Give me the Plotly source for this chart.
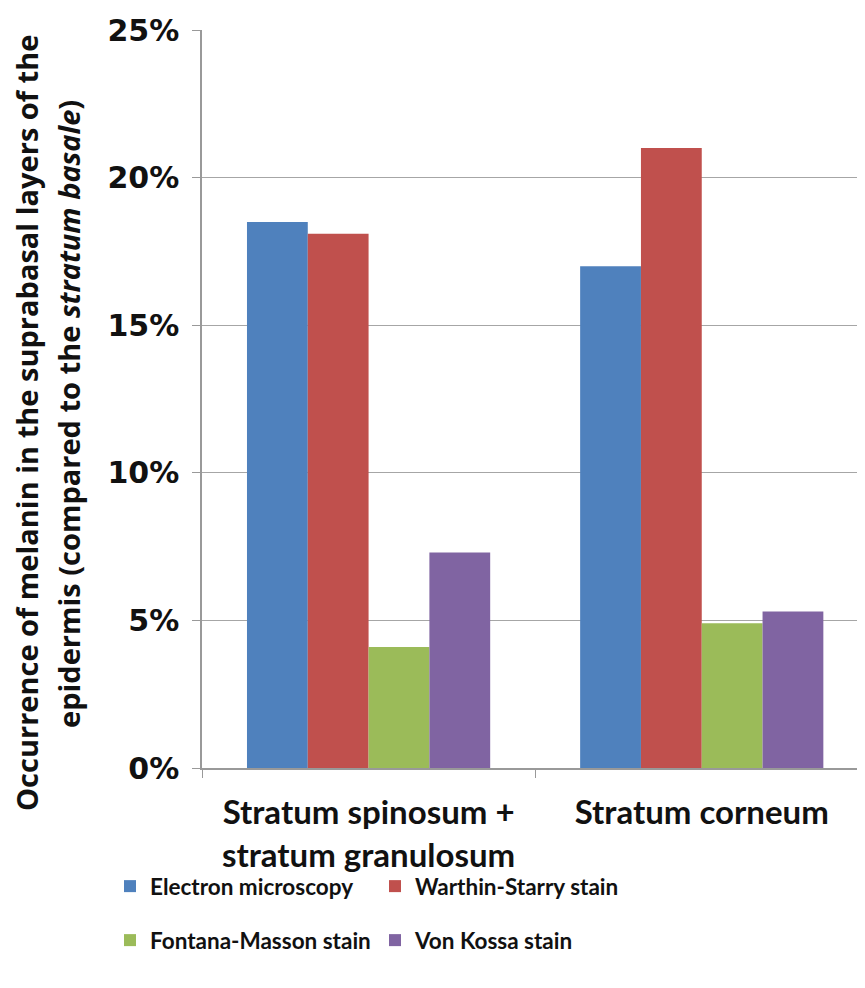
import plotly.graph_objects as go

categories = ["Stratum spinosum +<br>stratum granulosum", "Stratum corneum"]
series_names = ["Electron microscopy", "Warthin-Starry stain", "Fontana-Masson stain", "Von Kossa stain"]
electron = [0.185, 0.170]
warthin = [0.181, 0.210]
fontana = [0.041, 0.049]
vonkossa = [0.073, 0.053]
colors = ["#4F81BD", "#C0504D", "#9BBB59", "#8064A2"]
legends = ["legend", "legend", "legend2", "legend2"]
tick_vals = [0, 0.05, 0.10, 0.15, 0.20, 0.25]
tick_text = ["0%", "5%", "10%", "15%", "20%", "25%"]
title_lines = ["Occurrence of melanin in the suprabasal layers of the",
               "epidermis (compared to the <i>stratum basale</i>)"]

# page body has an 8px margin; figure is sized so the page fits the window
OFF = 8
W, H = 857, 972
ML, MT, MR = 202 - OFF, 30 - OFF, 0
MB = H - (768 - OFF)
PW = W - ML - MR
PH = H - MT - MB

fig = go.Figure()
for name, vals, col, lg in zip(series_names, [electron, warthin, fontana, vonkossa], colors, legends):
    fig.add_trace(go.Bar(x=categories, y=vals, name=name, marker=dict(color=col, line=dict(width=0)), legend=lg))

def px2paper_x(px):
    return (px - OFF - ML) / PW

def px2paper_y(py):
    return (H - MB - (py - OFF)) / PH

for line, cx, cy in zip(title_lines, [27, 69], [423, 414]):
    fig.add_annotation(text=line, textangle=-90, xref="paper", yref="paper",
                       x=px2paper_x(cx), y=px2paper_y(cy), xanchor="center", yanchor="middle", showarrow=False,
                       font=dict(family="Open Sans", size=29, color="#111111", weight="bold"))

legend_font = dict(family="Lato", size=22.5, color="#111111", weight="bold")
fig.update_layout(
    width=W, height=H,
    paper_bgcolor="white", plot_bgcolor="white",
    margin=dict(l=ML, r=MR, t=MT, b=MB, autoexpand=False),
    barmode="group", bargap=0.27, bargroupgap=0,
    xaxis=dict(range=[-0.5, 1.49], tickson="boundaries", ticks="outside", ticklen=8, tickcolor="#999999",
               showline=True, linecolor="#999999", linewidth=1.5, showgrid=False, automargin=False,
               ticklabelstandoff=15,
               tickfont=dict(family="Lato", size=33, color="#111111", weight="bold")),
    yaxis=dict(range=[0, 0.25], tickvals=tick_vals, ticktext=tick_text, ticks="outside", ticklen=8,
               tickcolor="#999999", showline=True, linecolor="#999999", linewidth=1.5, automargin=False,
               showgrid=True, gridcolor="#A6A6A6", gridwidth=1.2, zeroline=False, ticklabelstandoff=7,
               tickfont=dict(family="DejaVu Sans", size=30, color="#111111", weight="bold")),
    legend=dict(orientation="h", x=px2paper_x(110), xanchor="left", y=px2paper_y(865), yanchor="top",
                entrywidth=220, entrywidthmode="pixels", font=legend_font,
                traceorder="normal", itemwidth=30, bgcolor="rgba(0,0,0,0)"),
    legend2=dict(orientation="h", x=px2paper_x(110), xanchor="left", y=px2paper_y(919), yanchor="top",
                 entrywidth=220, entrywidthmode="pixels", font=legend_font,
                 traceorder="normal", itemwidth=30, bgcolor="rgba(0,0,0,0)"),
)

fig.write_html("out.html")
